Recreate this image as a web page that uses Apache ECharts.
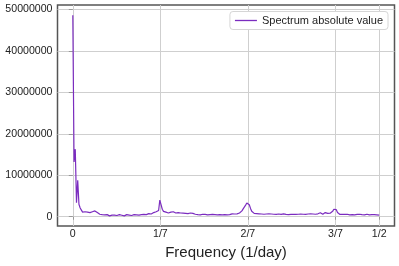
<!DOCTYPE html>
<html>
<head>
<meta charset="utf-8">
<script src="https://cdn.jsdelivr.net/npm/echarts@6/dist/echarts.min.js"></script>
<style>
  html, body { margin: 0; padding: 0; background: #fff; }
  #chart { width: 399px; height: 266px; }
</style>
</head>
<body>
<div id="chart"></div>
<script>
// ---- data ----
const SERIES_NAME = 'Spectrum absolute value';
const X_AXIS_NAME = 'Frequency (1/day)';
const FREQ_STEP = 0.002;               // spacing of the frequency bins (1/day)
// spectrum absolute value, in millions, one per frequency bin from 0 to 1/2
const SPECTRUM_MILLIONS = [
  48.6,13.2,16.3,3.4,8.8,3.0,2.1,1.6,1.1,0.9,1.2,1.0,1.1,0.9,1.0,1.1,1.2,1.3,1.4,1.2,1.0,0.8,0.6,0.5,
  0.5,0.4,0.45,0.35,0.5,0.4,0.2,0.45,0.4,0.55,0.4,0.35,0.3,0.45,0.5,0.4,0.35,0.45,0.2,0.4,
  0.5,0.35,0.4,0.45,0.3,0.35,0.5,0.4,0.45,0.55,0.4,0.6,0.5,0.45,0.55,0.7,0.5,0.6,0.75,
  0.8,0.65,0.9,1.0,0.85,1.2,1.4,1.5,4.0,2.9,1.8,1.3,1.5,1.1,1.2,0.9,
  1.0,1.1,0.9,1.2,1.0,0.9,1.1,1.0,0.8,0.9,1.0,0.85,0.7,0.8,0.9,0.75,0.8,0.9,0.7,0.8,0.75,0.6,
  0.55,0.5,0.65,0.45,0.5,0.6,0.4,0.55,0.5,0.45,0.6,0.5,0.4,0.55,0.45,0.5,0.6,0.45,0.4,0.5,
  0.55,0.45,0.6,0.5,0.55,0.45,0.6,0.5,0.55,0.7,0.6,0.65,0.75,0.7,0.8,
  0.9,1.2,1.4,1.9,2.3,2.8,3.3,3.7,2.9,2.0,1.3,0.9,0.8,
  0.7,0.75,0.6,0.7,0.8,0.65,0.7,0.6,0.75,0.65,0.55,0.7,0.6,0.65,0.5,0.6,0.7,0.55,0.6,0.65,
  0.5,0.55,0.6,0.7,0.6,0.55,0.65,0.5,0.6,0.55,0.65,0.6,0.5,0.55,0.7,0.6,0.5,0.65,0.55,0.6,
  0.7,0.55,0.6,0.65,0.55,0.7,0.6,0.65,
  0.8,0.6,0.9,0.7,0.65,0.95,0.7,0.6,0.85,1.0,0.75,0.8,0.7,0.85,
  1.0,1.3,1.8,2.0,1.7,1.0,0.6,
  0.55,0.5,0.6,0.45,0.55,0.5,0.6,0.5,0.45,0.55,0.5,0.6,0.45,0.5,0.55,0.5,0.6,0.45,0.5,0.55,
  0.45,0.5,0.6,0.5,0.45,0.55,0.5,0.45,0.5,0.55,0.45,0.5,0.4
];
const X_TICK_VALUES = [0, 1/7, 2/7, 3/7, 1/2];
const X_TICK_LABELS = ['0', '1/7', '2/7', '3/7', '1/2'];
const Y_TICK_VALUES = [0, 10000000, 20000000, 30000000, 40000000, 50000000];

// ---- chart ----
const FONT = '"Liberation Sans", Arial, sans-serif';
const LINE_COLOR = '#7b2cbf';
const seriesData = SPECTRUM_MILLIONS.map((v, i) => [i * FREQ_STEP, v * 1e6]);

const chart = echarts.init(document.getElementById('chart'), null, { renderer: 'canvas' });
chart.setOption({
  animation: false,
  backgroundColor: '#fff',
  grid: {
    left: 57.5, right: 4.5, top: 5, bottom: 40,
    show: true, borderColor: '#555', borderWidth: 1.5, backgroundColor: 'transparent'
  },
  legend: {
    data: [SERIES_NAME],
    right: 11, top: 11.5,
    icon: 'rect',
    itemWidth: 22, itemHeight: 1.3,
    padding: [3, 5, 3, 5],
    backgroundColor: '#fff',
    borderColor: '#d6d6d6', borderWidth: 1, borderRadius: 3,
    textStyle: { fontSize: 11, color: '#222', fontFamily: FONT, lineHeight: 12 }
  },
  xAxis: {
    type: 'value',
    min: -0.025, max: 0.525,
    name: X_AXIS_NAME,
    nameLocation: 'middle',
    nameGap: 19,
    nameTextStyle: { fontSize: 15, color: '#222', fontFamily: FONT },
    axisLine: { show: false },
    axisTick: { show: true, customValues: X_TICK_VALUES, length: 3, lineStyle: { color: '#999' } },
    axisLabel: {
      customValues: X_TICK_VALUES,
      margin: 3,
      fontSize: 10.6, color: '#222', fontFamily: FONT,
      formatter: (v) => {
        let best = 0;
        X_TICK_VALUES.forEach((t, i) => { if (Math.abs(t - v) < Math.abs(X_TICK_VALUES[best] - v)) best = i; });
        return X_TICK_LABELS[best];
      }
    },
    splitLine: { show: true, lineStyle: { color: '#cfcfcf', width: 1 } }
  },
  yAxis: {
    type: 'value',
    min: -2240000, max: 51080000,
    axisLine: { show: false },
    axisTick: { show: true, customValues: Y_TICK_VALUES, length: 4, lineStyle: { color: '#999' } },
    axisLabel: {
      customValues: Y_TICK_VALUES,
      margin: 5,
      fontSize: 10.6, color: '#222', fontFamily: FONT,
      formatter: (v) => String(Math.round(v))
    },
    splitLine: { show: true, lineStyle: { color: '#cfcfcf', width: 1 } }
  },
  series: [{
    name: SERIES_NAME,
    type: 'line',
    data: seriesData,
    showSymbol: false,
    symbol: 'none',
    lineStyle: { width: 1.2, color: LINE_COLOR },
    itemStyle: { color: LINE_COLOR }
  }]
});
</script>
</body>
</html>
